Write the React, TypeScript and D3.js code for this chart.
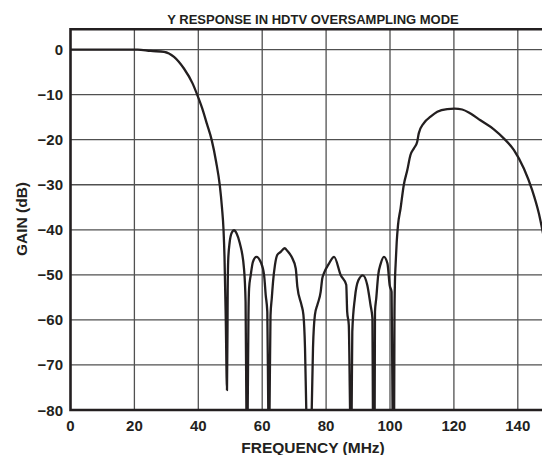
import { useEffect, useRef } from "react";
import * as d3 from "d3";

// frequency (MHz) and gain (dB)
const freqMHz: number[] = [
  0, 21.0, 25.1, 29.3, 32.4, 35.5, 38.2, 39.7, 41.2, 42.7, 44.2, 45.6, 46.7, 47.4, 47.9,
  48.2, 48.6, 48.98, 49.14, 49.2, 49.36, 49.83, 50.5, 51.17, 52.0, 53.0, 54.3, 54.8,
  55.05, 55.25, 55.46, 55.7, 55.9, 56.4, 57.1, 58.2, 59.5, 60.6, 61.1, 61.6, 61.9, 62.1,
  62.3, 62.6, 63.0, 63.4, 64.0, 64.7, 65.8, 67.0, 67.9, 69.2, 70.5, 71.0, 72.3, 72.9,
  73.4, 73.8, 74.6, 75.5, 75.9, 76.5, 77.3, 78.3, 78.8, 79.3, 80.9, 82.5, 84.6, 86.3,
  86.6, 87.1, 87.5, 87.75, 88.0, 88.2, 89.0, 90.1, 91.5, 92.9, 93.9, 94.5, 94.65, 94.9,
  95.2, 95.3, 95.7, 96.3, 97.1, 98.1, 99.2, 99.9, 100.5, 100.8, 101.05, 101.3, 101.4,
  101.55, 101.75, 102.1, 102.5, 103.3, 104.3, 105.4, 106.4, 107.5, 108.5, 109.0, 110.6,
  112.7, 114.8, 117.9, 120.2, 122.6, 125.2, 128.3, 132.5, 135.6, 138.8, 141.9, 144.5,
  146.6, 147.7, 149.0, 150.0,
];

const gainDb: number[] = [
  0, 0, -0.3, -0.5, -1.6, -4.2, -7.5, -10.1, -13.0, -16.5, -20.1, -25.0, -30.0, -35.0, -40.1,
  -46, -60, -75.6, -62.3, -53.4, -46.7, -42.7, -40.6, -40.1, -40.8, -43.0, -48.6, -56,
  -80, -90, -80, -59, -53, -50.1, -47.1, -46.0, -47.1, -50.1, -54.5, -58.2, -80, -90,
  -80, -59, -55.2, -51.5, -47.8, -45.6, -44.9, -44.1, -44.7, -46.0, -48.6, -52.6, -56.7, -58.9,
  -66.3, -80, -95, -80, -66.3, -58.9, -56.6, -53.8, -50.8, -49.7, -47.5, -46.0, -50.1, -52.2,
  -58.2, -61.1, -80, -90, -80, -62.6, -55.2, -51.2, -50.1, -52.3, -56.7, -59.7, -80, -90,
  -80, -58.2, -55.2, -50.1, -47.5, -46.0, -47.5, -52.3, -53.8, -80, -90, -80, -59,
  -51.5, -47.8, -42.7, -39, -35.3, -30.1, -26.8, -23.4, -21.9, -20.5, -18.6, -16.3,
  -14.9, -13.8, -13.2, -13.1, -13.3, -14.2, -15.7, -17.7, -19.7, -22.3, -26.4, -31.2,
  -36.4, -40.1, -45, -50,
];

const xTicks: number[] = [0, 20, 40, 60, 80, 100, 120, 140];
const yTicks: number[] = [0, -10, -20, -30, -40, -50, -60, -70, -80];

const title = "Y RESPONSE IN HDTV OVERSAMPLING MODE";
const xLabel = "FREQUENCY (MHz)";
const yLabel = "GAIN (dB)";

export default function App() {
  const svgRef = useRef<SVGSVGElement>(null);

  useEffect(() => {
    const width = 542;
    const height = 455;
    const left = 70.5;
    const top = 29.3;
    const bottom = 410;
    const ink = "#231f20";
    const font = "'Liberation Sans', Arial, Helvetica, sans-serif";

    const svg = d3.select(svgRef.current).attr("width", width).attr("height", height);
    svg.selectAll("*").remove();

    const x = d3.scaleLinear().domain([0, 150]).range([left, left + 150 * 3.195]);
    const y = d3.scaleLinear().domain([-80, 4.5]).range([bottom, top]);

    svg
      .append("defs")
      .append("clipPath")
      .attr("id", "plot-clip")
      .append("rect")
      .attr("x", left)
      .attr("y", top)
      .attr("width", x(150) - left)
      .attr("height", bottom - top);

    // grid
    const grid = svg.append("g").attr("stroke", "#505050").attr("stroke-width", 1.3);
    grid
      .selectAll("line.v")
      .data(xTicks.filter((d) => d > 0))
      .join("line")
      .attr("class", "v")
      .attr("x1", (d) => x(d))
      .attr("x2", (d) => x(d))
      .attr("y1", top)
      .attr("y2", bottom);
    grid
      .selectAll("line.h")
      .data(yTicks.filter((d) => d > -80))
      .join("line")
      .attr("class", "h")
      .attr("x1", left)
      .attr("x2", x(150))
      .attr("y1", (d) => y(d))
      .attr("y2", (d) => y(d));

    // response curve
    const pts: [number, number][] = freqMHz.map((f, i) => [f, gainDb[i]]);
    const line = d3
      .line<[number, number]>()
      .x((d) => x(d[0]))
      .y((d) => y(d[1]))
      .curve(d3.curveMonotoneX);
    svg
      .append("path")
      .datum(pts)
      .attr("clip-path", "url(#plot-clip)")
      .attr("fill", "none")
      .attr("stroke", ink)
      .attr("stroke-width", 2.3)
      .attr("stroke-linejoin", "round")
      .attr("d", line);

    // frame
    svg
      .append("path")
      .attr("fill", "none")
      .attr("stroke", ink)
      .attr("stroke-width", 2.6)
      .attr("d", `M${x(150)},${top}H${left}V${bottom}H${x(150)}`);

    // tick labels
    svg
      .append("g")
      .selectAll("text")
      .data(xTicks)
      .join("text")
      .attr("x", (d) => x(d))
      .attr("y", 431)
      .attr("text-anchor", "middle")
      .text((d) => String(d));

    svg
      .append("g")
      .selectAll("text")
      .data(yTicks)
      .join("text")
      .attr("x", 63)
      .attr("y", (d) => y(d) + 5.5)
      .attr("text-anchor", "end")
      .text((d) => (d < 0 ? "\u2212" + Math.abs(d) : String(d)));

    svg
      .selectAll("text")
      .attr("font-family", font)
      .attr("font-weight", "bold")
      .attr("font-size", 15)
      .attr("fill", ink);

    // titles
    svg
      .append("text")
      .attr("x", 313)
      .attr("y", 24)
      .attr("text-anchor", "middle")
      .attr("font-family", font)
      .attr("font-weight", "bold")
      .attr("font-size", 13)
      .attr("fill", ink)
      .text(title);

    svg
      .append("text")
      .attr("x", 313)
      .attr("y", 453)
      .attr("text-anchor", "middle")
      .attr("font-family", font)
      .attr("font-weight", "bold")
      .attr("font-size", 15.5)
      .attr("fill", ink)
      .text(xLabel);

    svg
      .append("text")
      .attr("transform", "translate(26.5,219) rotate(-90)")
      .attr("text-anchor", "middle")
      .attr("font-family", font)
      .attr("font-weight", "bold")
      .attr("font-size", 15.5)
      .attr("fill", ink)
      .text(yLabel);
  }, []);

  return (
    <svg
      ref={svgRef}
      style={{ position: "absolute", left: 0, top: 0, display: "block", background: "#fff" }}
    ></svg>
  );
}
